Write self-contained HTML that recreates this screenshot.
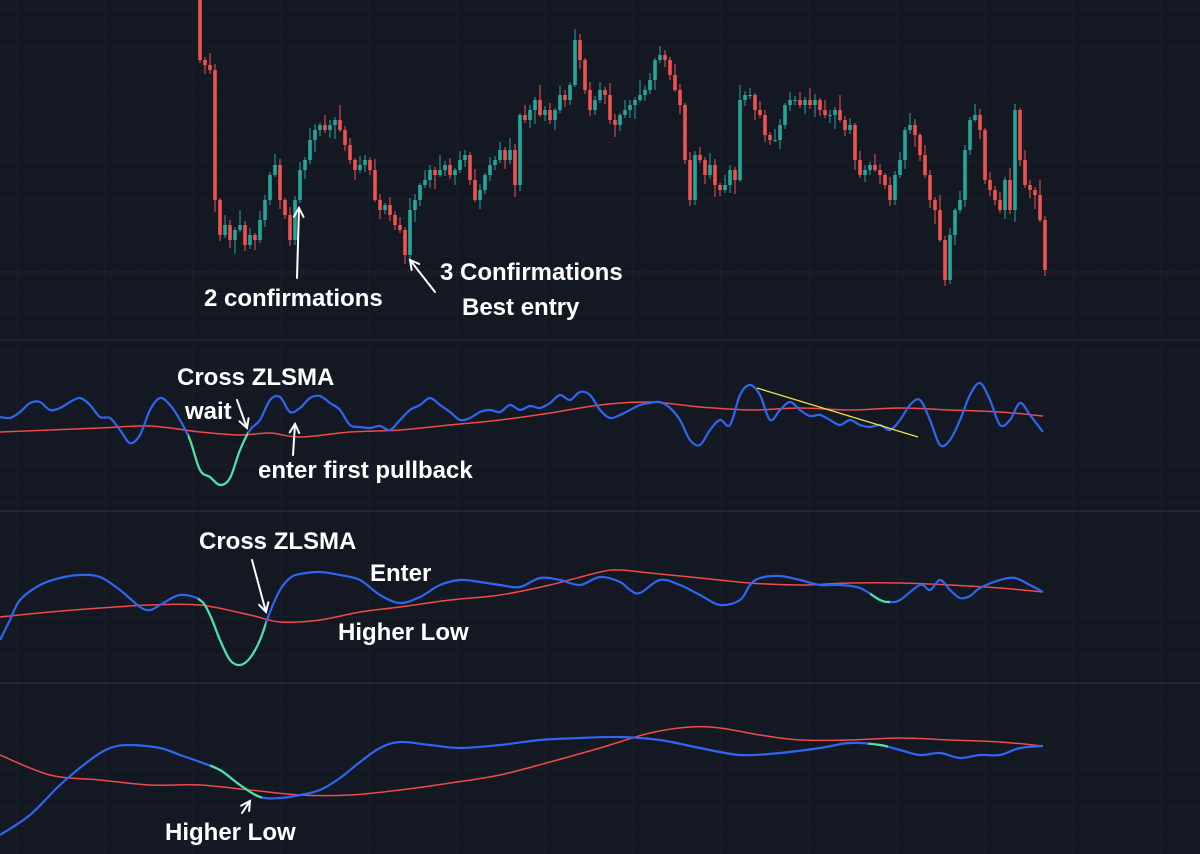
<!DOCTYPE html>
<html><head><meta charset="utf-8">
<style>
html,body{margin:0;padding:0;background:#141823;}
svg{display:block}
text{font-family:"Liberation Sans",sans-serif;font-weight:bold;fill:#fff;font-size:24px}
</style></head>
<body>
<svg id="c" width="1200" height="854" viewBox="0 0 1200 854">
<rect width="1200" height="854" fill="#141823"/>
<g id="grid"></g>
<g id="candles"></g>
<g id="osc"></g>
<g id="ann"></g>
</svg>
<script>
// price closes (price units, higher = up); one per candle starting x=195 step 5
const closes=[340,280,275,270,140,105,115,100,110,115,95,105,100,120,140,165,175,140,125,100,140,170,180,200,210,215,210,215,220,210,195,180,170,175,180,170,140,130,135,125,115,110,85,130,140,155,160,170,165,170,175,165,170,180,185,160,140,150,165,175,180,190,180,190,155,225,220,230,240,225,230,220,230,245,240,255,300,280,250,230,240,250,245,220,215,225,230,235,240,245,250,260,280,285,280,265,250,235,180,140,185,180,165,175,155,150,155,170,160,240,245,245,230,225,205,200,200,215,235,240,240,235,240,235,240,230,225,225,230,220,210,215,180,165,170,175,170,165,155,140,165,180,210,215,205,185,165,140,130,100,60,105,130,140,190,220,225,210,160,150,140,130,160,130,230,180,155,150,145,120,70];
const wickUp=[4,8,3,12,6,2,10,5,3,15,4,7,2,9,5,3,11,6,2,8];
const wickDn=[5,3,9,4,12,6,3,8,14,2,6,4,10,3,7,5,2,9,4,6];
const candleX0=195, candleStep=5;
// oscillator panel 1 (values in pixel-space of panel)
const p1x=[0,10,20,30,40,50,60,70,80,90,100,110,120,130,140,150,160,170,180,190,200,210,220,230,240,250,260,270,280,290,300,310,320,330,340,350,360,370,380,390,400,410,420,430,440,450,460,470,480,490,500,510,520,530,540,550,560,570,580,590,600,610,620,630,640,650,660,670,680,690,700,710,720,730,740,750,760,770,780,790,800,810,820,830,840,850,860,870,880,890,900,910,920,930,940,950,960,970,980,990,1000,1010,1020,1030,1043];
const p1blue=[417,418,412,403,402,410,408,402,398,405,417,418,430,443,435,410,398,405,420,440,470,477,485,478,450,430,420,400,397,412,408,398,396,403,410,425,427,428,426,430,420,410,405,398,405,412,420,418,412,410,412,405,410,406,408,403,395,400,392,395,410,418,415,410,405,403,402,408,420,440,445,430,420,425,395,385,395,420,410,402,410,416,415,420,425,420,425,427,425,430,420,405,400,420,445,440,420,395,383,400,425,420,403,415,432];
const p1rx=[0,100,150,200,240,270,300,350,400,450,500,550,600,650,700,750,800,850,900,950,1000,1043];
const p1red=[432,428,426,432,435,433,437,432,430,425,420,413,405,402,407,410,408,410,408,410,412,416];
const p1green=[[188,248]];
// panel 2
const p2x=[0,10,20,40,60,80,100,120,140,150,160,180,200,210,220,230,240,250,260,270,280,290,300,320,340,360,380,400,420,440,460,480,500,520,540,560,580,600,620,630,640,660,680,700,720,740,750,760,780,800,820,840,860,880,890,900,920,930,940,950,960,970,980,1000,1015,1030,1043];
const p2blue=[640,620,600,585,578,575,577,590,607,610,605,595,600,615,640,660,665,658,640,612,590,578,574,572,575,580,595,603,597,585,580,582,585,587,578,580,585,577,582,590,593,580,585,595,605,600,585,578,576,580,585,585,588,600,602,600,585,590,580,590,598,596,588,580,578,585,592];
const p2rx=[0,50,100,150,200,250,280,320,360,400,450,500,550,600,620,650,700,750,800,850,900,950,1000,1043];
const p2red=[617,612,608,605,605,615,622,620,612,607,600,595,585,572,570,573,578,583,585,583,583,585,588,592];
const p2green=[[198,266],[870,890]];
// panel 3
const p3x=[0,30,60,90,110,130,160,180,200,220,240,260,280,300,320,340,360,380,400,430,460,500,540,580,620,660,700,740,780,820,850,880,900,920,940,960,980,1000,1020,1043];
const p3blue=[835,815,785,760,748,745,748,755,762,770,785,797,798,795,790,778,762,748,742,745,748,745,740,738,737,740,748,755,753,748,743,745,750,755,753,758,755,755,748,746];
const p3rx=[0,50,100,150,200,250,300,350,400,450,500,550,600,650,690,720,760,800,850,900,950,1000,1043];
const p3red=[755,775,780,785,785,790,795,795,790,783,775,762,748,733,727,728,735,740,740,738,740,742,746];
const p3green=[[210,262],[868,888]];

const NS="http://www.w3.org/2000/svg";
const svg=document.getElementById('c');
function mk(tag,attrs,parent){const e=document.createElementNS(NS,tag);for(const k in attrs)e.setAttribute(k,attrs[k]);parent.appendChild(e);return e;}
const yPrice=p=>340-p;
const xCandle=i=>candleX0+i*candleStep;

// grid
const grid=document.getElementById('grid');


for(let y=9;y<854;y+=19){mk('line',{x1:0,x2:1200,y1:y,y2:y,stroke:'#1a1e2a','stroke-width':1},grid);}
for(let x=17;x<1200;x+=88){mk('line',{x1:x,x2:x,y1:0,y2:854,stroke:'#1a1e2a','stroke-width':1},grid);}
[340,511,683].forEach(y=>{const l=mk('line',{x1:0,x2:1200,y1:y,y2:y,stroke:'#262a35','stroke-width':1.5},grid);

});
const pl=mk('line',{x1:0,x2:1200,y1:272,y2:272,stroke:'#6a3438','stroke-width':1,'stroke-dasharray':'1,2'},grid);



// candles
const cg=document.getElementById('candles');
for(let i=1;i<closes.length;i++){
  const o=closes[i-1],c=closes[i];
  const hi=Math.max(o,c)+wickUp[i%wickUp.length], lo=Math.min(o,c)-wickDn[i%wickDn.length];
  const col=c>=o?'#26a69a':'#ef5350';
  const x=xCandle(i);
  const g=mk('g',{},cg);
  
  
  mk('line',{x1:x,x2:x,y1:yPrice(hi),y2:yPrice(lo),stroke:col,'stroke-width':1},g);
  const top=yPrice(Math.max(o,c)),h=Math.max(1,Math.abs(o-c));
  mk('rect',{x:x-1.8,y:top,width:3.6,height:h,fill:col},g);
}

function smooth(xs,ys){
  let d='M'+xs[0]+','+ys[0];
  for(let i=0;i<xs.length-1;i++){
    const x0=xs[Math.max(0,i-1)],y0=ys[Math.max(0,i-1)],x1=xs[i],y1=ys[i],x2=xs[i+1],y2=ys[i+1],x3=xs[Math.min(xs.length-1,i+2)],y3=ys[Math.min(xs.length-1,i+2)];
    const c1x=x1+(x2-x0)/6,c1y=y1+(y2-y0)/6,c2x=x2-(x3-x1)/6,c2y=y2-(y3-y1)/6;
    d+=' C'+c1x.toFixed(1)+','+c1y.toFixed(1)+' '+c2x.toFixed(1)+','+c2y.toFixed(1)+' '+x2+','+y2;
  }
  return d;
}
const osc=document.getElementById('osc');
const defs=mk('defs',{},svg);
function panel(name,bx,by,rx,ry,greens,idx){
  const g=mk('g',{},osc);
  
  
  const r=mk('path',{d:smooth(rx,ry),fill:'none',stroke:'#f04a4a','stroke-width':1.5},g);
  
  
  const b=mk('path',{d:smooth(bx,by),fill:'none',stroke:'#2f66f0','stroke-width':2.2},g);
  
  
  const cp=mk('clipPath',{id:'cl'+idx},defs);
  greens.forEach(rg=>mk('rect',{x:rg[0],y:0,width:rg[1]-rg[0],height:854},cp));
  const gr=mk('path',{d:smooth(bx,by),fill:'none',stroke:'#4ee3a0','stroke-width':2.2,'clip-path':'url(#cl'+idx+')'},g);
  
  
}
panel('oscillator-panel-1',p1x,p1blue,p1rx,p1red,p1green,1);
panel('oscillator-panel-2',p2x,p2blue,p2rx,p2red,p2green,2);
panel('oscillator-panel-3',p3x,p3blue,p3rx,p3red,p3green,3);
const tl=mk('line',{x1:757,y1:388,x2:918,y2:437,stroke:'#e8e04a','stroke-width':1.3},osc);



// annotations
const ann=document.getElementById('ann');
const texts=[['2 confirmations',204,306],['3 Confirmations',440,280],['Best entry',462,315],['Cross ZLSMA',177,385],['wait',185,419],['enter first pullback',258,478],['Cross ZLSMA',199,549],['Enter',370,581],['Higher Low',338,640],['Higher Low',165,840]];
texts.forEach(t=>{const e=mk('text',{x:t[1],y:t[2]},ann);e.textContent=t[0];

});
function arrow(x1,y1,x2,y2){
  const g=mk('g',{stroke:'#fff','stroke-width':2,fill:'none','stroke-linecap':'round'},ann);
  
  
  mk('line',{x1,y1,x2,y2},g);
  const a=Math.atan2(y2-y1,x2-x1),L=10;
  mk('polyline',{points:(x2-L*Math.cos(a-0.5))+','+(y2-L*Math.sin(a-0.5))+' '+x2+','+y2+' '+(x2-L*Math.cos(a+0.5))+','+(y2-L*Math.sin(a+0.5))},g);
}
arrow(297,278,299,208);
arrow(435,292,410,260);
arrow(237,400,247,428);
arrow(293,455,295,424);
arrow(252,560,266,612);
arrow(242,813,250,801);
</script>
</body></html>
